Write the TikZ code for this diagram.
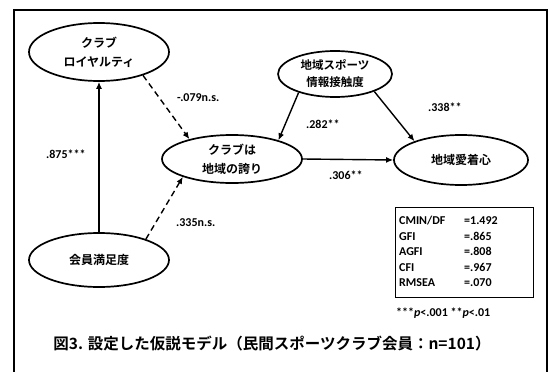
\documentclass[tikz,border=0pt]{standalone}
\usepackage{fontspec}
\setmainfont{Carlito}
\newfontfamily\jp{Noto Sans CJK JP}[BoldFont={Noto Sans CJK JP Bold}]
\usetikzlibrary{shapes.geometric,arrows.meta}
\begin{document}
\begin{tikzpicture}[x=1pt,y=-1pt]
\tikzset{
  var/.style={ellipse, draw, line width=1.7pt, font=\jp\bfseries\fontsize{12}{19}\selectfont, align=center, inner sep=0pt},
  arr/.style={line width=1.4pt, -{Latex[length=7pt,width=6pt]}},
  darr/.style={arr, dash pattern=on 6pt off 4pt},
  lab/.style={font=\bfseries\fontsize{12}{14}\selectfont, inner sep=0pt}
}
\useasboundingbox (0,0) rectangle (549,372);
\fill[white] (0,0) rectangle (549,372);
\draw[line width=1.8pt] (14,380) -- (14,10) -- (547,10) -- (547,380);

\node[var, minimum width=140pt, minimum height=58pt] (loy) at (99,52) {クラブ\\ロイヤルティ};
\node[var, minimum width=140pt, minimum height=54pt] (mem) at (99,260) {会員満足度};
\node[var, minimum width=140pt, minimum height=48pt] (pride) at (232,159) {クラブは\\地域の誇り};
\node[var, minimum width=114pt, minimum height=46pt, font=\jp\bfseries\fontsize{11.5}{17}\selectfont] (info) at (335,74) {地域スポーツ\\情報接触度};
\node[var, minimum width=134pt, minimum height=50pt] (att) at (461,160) {地域愛着心};

\draw[arr] (mem.north) -- (loy.south);
\draw[darr] (loy.-28) -- (pride.155);
\draw[darr] (mem.24) -- (pride.200);
\draw[arr] (info.207) -- (pride.22);
\draw[arr] (info.-24) -- (att.158);
\draw[arr] (pride.east) -- (att.west);

\node[lab, anchor=west] (l1) at (46,154) {.875***};
\node[lab, anchor=west] (l2) at (177,98) {-.079n.s.};
\node[lab, anchor=west] (l3) at (176,223) {.335n.s.};
\node[lab, anchor=west] (l4) at (306,124) {.282**};
\node[lab, anchor=west] (l5) at (428,107) {.338**};
\node[lab, anchor=west] (l6) at (329,175) {.306**};

\node[draw, line width=1.4pt, anchor=north west, inner xsep=3.5pt, inner ysep=0pt,
      text width=131pt, minimum height=90pt, align=left,
      font=\bfseries\fontsize{12}{14}\selectfont] (fit) at (395,207)
  {\renewcommand{\arraystretch}{1.1}\begin{tabular}{@{}p{65pt}@{}l@{}}
   CMIN/DF & =1.492\\
   GFI & =.865\\
   AGFI & =.808\\
   CFI & =.967\\
   RMSEA & =.070
   \end{tabular}};
\node[lab, anchor=west] (note) at (396,313) {***\textit{p}<.001 **\textit{p}<.01};
\node[font=\jp\bfseries\fontsize{15.5}{17}\selectfont, inner sep=0pt] (cap) at (272,344)
  {図3. 設定した仮説モデル（民間スポーツクラブ会員：n=101）};
\end{tikzpicture}
\end{document}
